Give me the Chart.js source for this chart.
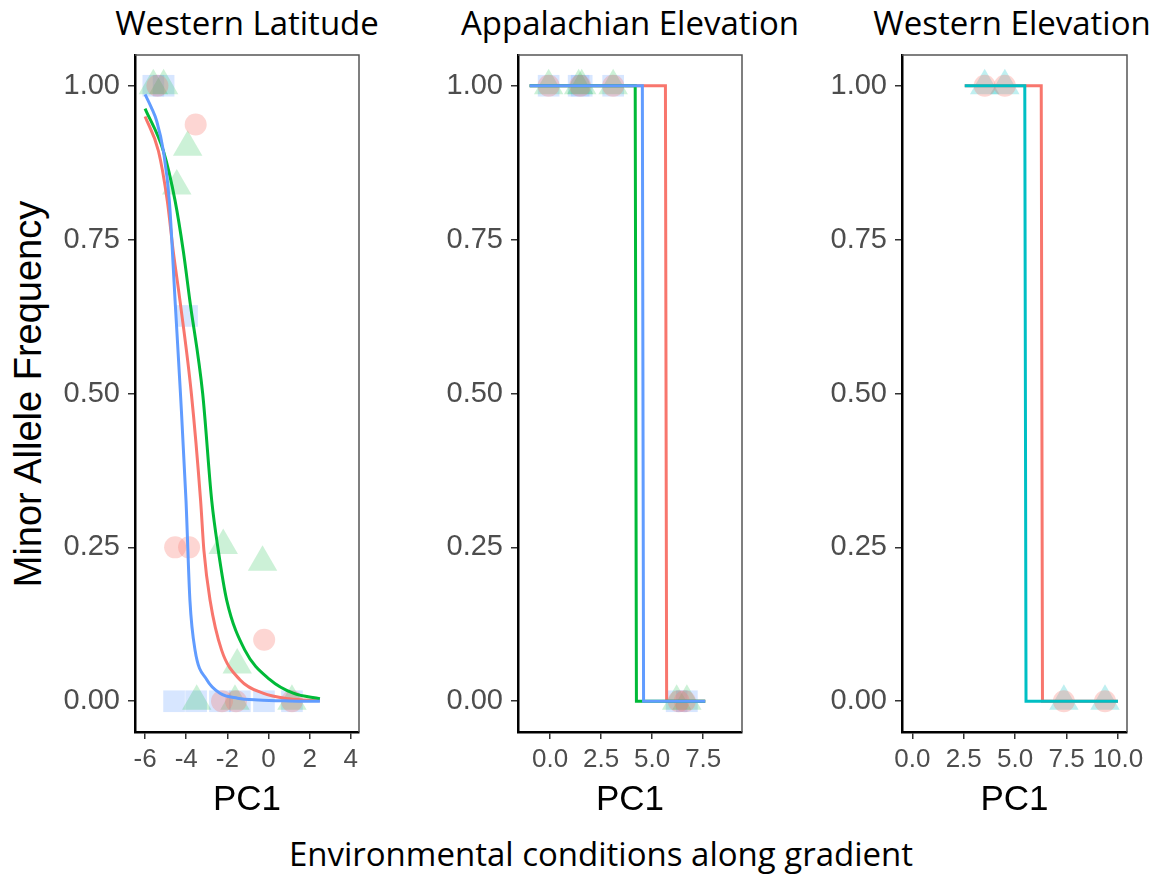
<!DOCTYPE html>
<html>
<head>
<meta charset="utf-8">
<script src="https://cdn.jsdelivr.net/npm/chart.js@4.4.1/dist/chart.umd.min.js"></script>
<style>
    body { margin: 0; background: #fff; width: 1157px; height: 875px; overflow: hidden; position: relative; }
    canvas { position: absolute; top: 38px; }
    .panel-title { position: absolute; top: 2px; width: 440px; text-align: center; white-space: nowrap;
        font-family: "Open Sans", Lato, sans-serif; font-size: 33px; line-height: 42px; color: #000; }
    #yLabel { position: absolute; left: 28px; top: 394px; transform: translate(-50%, -50%) rotate(-90deg);
        white-space: nowrap; font-family: "Liberation Sans", Arial, sans-serif; font-size: 38px; color: #000; }
    #xLabel { position: absolute; left: 601px; top: 833px; transform: translateX(-50%); white-space: nowrap;
        font-family: "Open Sans", Lato, sans-serif; font-size: 33px; line-height: 42px; color: #000; }
</style>
</head>
<body>
<div class="panel-title" style="left:27px">Western Latitude</div>
<div class="panel-title" style="left:410px">Appalachian Elevation</div>
<div class="panel-title" style="left:792px">Western Elevation</div>
<div id="yLabel">Minor Allele Frequency</div>
<div id="xLabel">Environmental conditions along gradient</div>

<canvas id="latChart" width="380" height="792" style="left:0px"></canvas>
<canvas id="appChart" width="370" height="792" style="left:390px"></canvas>
<canvas id="westChart" width="387" height="792" style="left:770px"></canvas>

<script>
// 축 눈금
const yTicks = [0, 0.25, 0.5, 0.75, 1];
const latTicks = [-6, -4, -2, 0, 2, 4];
const appTicks = [0, 2.5, 5, 7.5];
const westTicks = [0, 2.5, 5, 7.5, 10];

// Western Latitude - 관측값
const latCircleX = [-5.4, -3.54, -4.54, -3.86, -0.21, -2.26, -1.58, 1.14];
const latCircleY = [1, 0.937, 0.25, 0.25, 0.10, 0, 0, 0];
const latTriX = [-5.6, -5.1, -3.93, -4.46, -2.2, -0.29, -1.52, -3.49, -1.63, 1.14];
const latTriY = [1, 1, 0.90, 0.837, 0.253, 0.226, 0.059, 0, 0, 0];
const latSqX = [-5.6, -5.1, -3.96, -4.59, -3.52, -2.36, -1.39, -0.22, 1.14];
const latSqY = [1, 1, 0.626, 0, 0, 0, 0, 0, 0];

// Western Latitude - 적합 곡선
const latRedX = [-6.0, -5.35, -4.92, -4.63, -4.3, -3.75, -3.3, -3.14, -2.84, -2.28, -1.39, -0.27, 1.0, 2.5];
const latRedY = [0.95, 0.894, 0.813, 0.731, 0.65, 0.5, 0.326, 0.245, 0.164, 0.083, 0.035, 0.013, 0.004, 0.001];
const latGreenX = [-6.0, -5.11, -4.54, -4.14, -3.82, -3.2, -2.76, -2.44, -2.03, -1.15, 0.07, 1.2, 2.5];
const latGreenY = [0.963, 0.894, 0.813, 0.731, 0.65, 0.5, 0.326, 0.245, 0.164, 0.083, 0.035, 0.013, 0.004];
const latBlueX = [-6.0, -5.7, -5.43, -5.11, -4.82, -4.54, -4.28, -4.01, -3.82, -3.57, -3.0, -2.36, -1.5, -0.5, 1.0, 2.5];
const latBlueY = [0.986, 0.965, 0.942, 0.894, 0.813, 0.65, 0.5, 0.326, 0.164, 0.083, 0.035, 0.013, 0.005, 0.002, 0.0005, 0];

// Appalachian Elevation
const appCircleX = [-0.07, 1.47, 3.09, 6.3, 6.6];
const appCircleY = [1, 1, 1, 0, 0];
const appTriX = [-0.07, 1.4, 1.55, 3.09, 6.2, 6.7];
const appTriY = [1, 1, 1, 1, 0, 0];
const appSqX = [-0.07, 1.4, 1.55, 3.09, 6.2, 6.7];
const appSqY = [1, 1, 1, 1, 0, 0];
const appRedX = [-1.0, 5.65, 5.71, 7.6];
const appRedY = [1, 1, 0, 0];
const appGreenX = [-1.0, 4.17, 4.23, 7.6];
const appGreenY = [1, 1, 0, 0];
const appBlueX = [-1.0, 4.52, 4.58, 7.6];
const appBlueY = [1, 1, 0, 0];

// Western Elevation
const westCircleX = [3.52, 4.5, 7.37, 9.37];
const westCircleY = [1, 1, 0, 0];
const westTriX = [3.52, 4.5, 7.37, 9.37];
const westTriY = [1, 1, 0, 0];
const westRedX = [2.55, 6.27, 6.33, 10.0];
const westRedY = [1, 1, 0, 0];
const westTealX = [2.55, 5.47, 5.53, 10.0];
const westTealY = [1, 1, 0, 0];

const RED = '#F8766D', GREEN = '#00BA38', BLUE = '#619CFF', TEAL = '#00BFC4';
const FONT = '"Liberation Sans", Arial, sans-serif';

const pts = (xs, ys) => xs.map((x, i) => ({ x: x, y: ys[i] }));

function markers(xs, ys, style, fill, radius) {
    return {
        data: pts(xs, ys),
        pointStyle: style,
        pointRadius: radius,
        pointBackgroundColor: fill,
        pointBorderWidth: 0,
        order: 10
    };
}

function curve(xs, ys, color, order, smooth) {
    return {
        data: pts(xs, ys),
        showLine: true,
        borderColor: color,
        borderWidth: 3,
        pointRadius: 0,
        fill: false,
        tension: 0,
        cubicInterpolationMode: smooth ? 'monotone' : 'default',
        order: order
    };
}

// 위/오른쪽 회색 테두리
const framePlugin = {
    id: 'frame',
    afterDraw(chart) {
        const { ctx, chartArea: a } = chart;
        ctx.save();
        ctx.strokeStyle = '#555';
        ctx.lineWidth = 1.5;
        ctx.beginPath();
        ctx.moveTo(a.left, a.top);
        ctx.lineTo(a.right, a.top);
        ctx.lineTo(a.right, a.bottom);
        ctx.stroke();
        ctx.restore();
    }
};

function makePanel(id, cfg) {
    new Chart(document.getElementById(id), {
        type: 'scatter',
        data: { datasets: cfg.datasets },
        options: {
            responsive: false,
            animation: false,
            devicePixelRatio: 1,
            layout: { padding: { top: 13, right: cfg.padRight, left: 0, bottom: 0 } },
            plugins: { legend: { display: false }, tooltip: { enabled: false } },
            scales: {
                x: {
                    type: 'linear',
                    min: cfg.xMin,
                    max: cfg.xMax,
                    afterBuildTicks: s => { s.ticks = cfg.xTicks.map(v => ({ value: v })); },
                    afterFit: s => { s.height = 98; },
                    ticks: {
                        callback: v => v.toFixed(cfg.xDec),
                        color: '#4D4D4D',
                        font: { size: 26, family: FONT },
                        padding: 5,
                        autoSkip: false,
                        maxRotation: 0,
                        minRotation: 0
                    },
                    grid: { drawOnChartArea: false, tickLength: 7, color: '#333', lineWidth: 1.5 },
                    border: { color: '#000', width: 2.5 },
                    title: { display: true, text: 'PC1', color: '#000', font: { size: 35, family: FONT }, padding: { top: 0, bottom: 9 } }
                },
                y: {
                    type: 'linear',
                    min: -0.05,
                    max: 1.05,
                    afterBuildTicks: s => { s.ticks = yTicks.map(v => ({ value: v })); },
                    afterFit: s => { s.width = cfg.yWidth; s.paddingTop = 0; s.paddingBottom = 0; },
                    ticks: {
                        callback: v => v.toFixed(2),
                        color: '#4D4D4D',
                        font: { size: 29, family: FONT },
                        padding: 8,
                        autoSkip: false
                    },
                    grid: { drawOnChartArea: false, tickLength: 7, color: '#333', lineWidth: 1.5 },
                    border: { color: '#000', width: 2.5 }
                }
            }
        },
        plugins: [framePlugin]
    });
}

makePanel('latChart', {
    xMin: -6.49, xMax: 4.4, xTicks: latTicks, xDec: 0, yWidth: 135, padRight: 21,
    datasets: [
        markers(latCircleX, latCircleY, 'circle', 'rgba(248,118,109,0.3)', 11),
        markers(latTriX, latTriY, 'triangle', 'rgba(0,186,56,0.2)', 17),
        markers(latSqX, latSqY, 'rect', 'rgba(97,156,255,0.25)', 15.3),
        curve(latRedX, latRedY, RED, 3, true),
        curve(latGreenX, latGreenY, GREEN, 2, true),
        curve(latBlueX, latBlueY, BLUE, 1, true)
    ]
});

makePanel('appChart', {
    xMin: -1.57, xMax: 9.4, xTicks: appTicks, xDec: 1, yWidth: 128, padRight: 18,
    datasets: [
        markers(appCircleX, appCircleY, 'circle', 'rgba(248,118,109,0.3)', 11),
        markers(appTriX, appTriY, 'triangle', 'rgba(0,186,56,0.2)', 17),
        markers(appSqX, appSqY, 'rect', 'rgba(97,156,255,0.25)', 15.3),
        curve(appRedX, appRedY, RED, 3, false),
        curve(appGreenX, appGreenY, GREEN, 2, false),
        curve(appBlueX, appBlueY, BLUE, 1, false)
    ]
});

makePanel('westChart', {
    xMin: -0.5, xMax: 10.44, xTicks: westTicks, xDec: 1, yWidth: 132, padRight: 30,
    datasets: [
        markers(westCircleX, westCircleY, 'circle', 'rgba(248,118,109,0.3)', 11),
        markers(westTriX, westTriY, 'triangle', 'rgba(0,191,196,0.25)', 17),
        curve(westRedX, westRedY, RED, 3, false),
        curve(westTealX, westTealY, TEAL, 1, false)
    ]
});
</script>
</body>
</html>
